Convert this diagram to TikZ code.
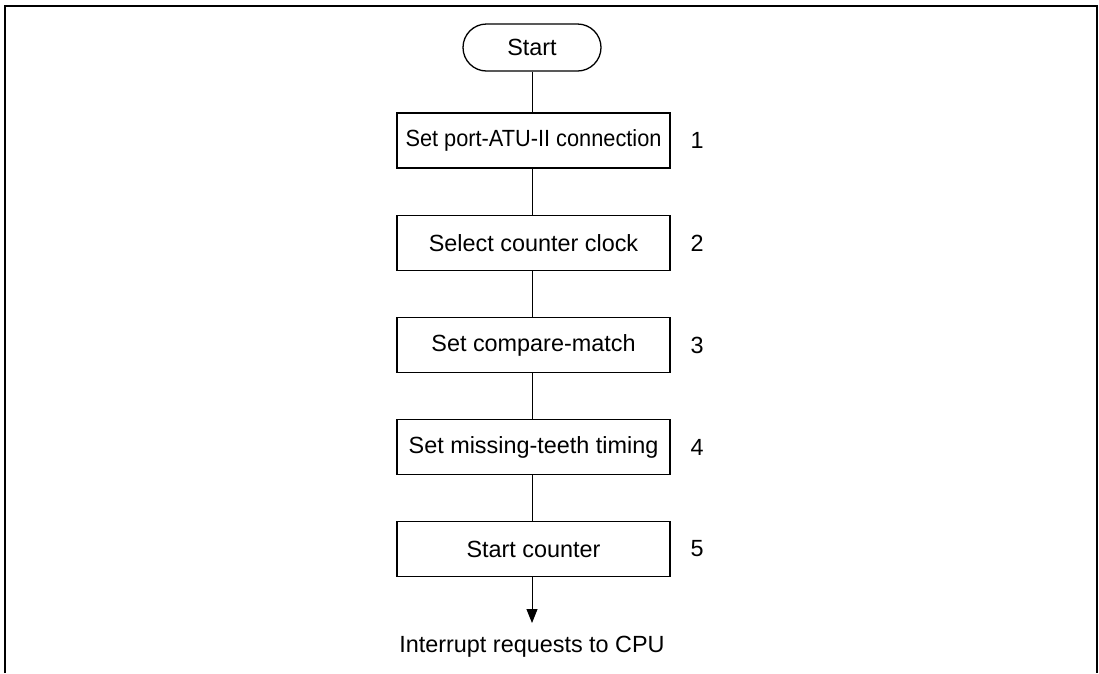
\documentclass[tikz,border=0pt]{standalone}
\usepackage{fontspec}
\usepackage{graphicx}
\setmainfont{Liberation Sans}
\usetikzlibrary{shapes.misc,arrows.meta}
\begin{document}
\begin{tikzpicture}[x=1pt,y=-1pt,
  every node/.style={font=\fontsize{23.4}{27}\selectfont, inner sep=0pt},
  stepbox/.style={draw, line width=1.3pt, minimum width=273pt, minimum height=55pt},
  pill/.style={draw, line width=1.3pt, rounded rectangle, minimum width=138pt, minimum height=47pt},
  link/.style={line width=1pt},
  num/.style={anchor=center}]
\useasboundingbox (0,0) rectangle (1099,673);
\draw[line width=2pt] (5,673) -- (5,6) -- (1097,6) -- (1097,673);
\node[pill] (start) at (532,47.5) {Start};
\node[stepbox] (s1) at (533.5,140.5) {\scalebox{0.93}[1]{Set port-ATU-II connection}};
\node[stepbox] (s2) at (533.5,243) {Select counter clock};
\node[stepbox] (s3) at (533.5,345) {Set compare-match};
\node[stepbox] (s4) at (533.5,447) {Set missing-teeth timing};
\node[stepbox] (s5) at (533.5,549) {Start counter};
\node[num] (n1) at (697,140.5) {1};
\node[num] (n2) at (697,243) {2};
\node[num] (n3) at (697,345) {3};
\node[num] (n4) at (697,447) {4};
\node[num] (n5) at (697,549) {5};
\node (irq) at (532,647) {Interrupt requests to CPU};
\coordinate (tip) at (532,623);
\draw[link] (start.south -| 532,0) -- (s1.north -| 532,0);
\draw[link] (s1.south -| 532,0) -- (s2.north -| 532,0);
\draw[link] (s2.south -| 532,0) -- (s3.north -| 532,0);
\draw[link] (s3.south -| 532,0) -- (s4.north -| 532,0);
\draw[link] (s4.south -| 532,0) -- (s5.north -| 532,0);
\draw[link,-{Triangle[length=14pt,width=11pt]}] (s5.south -| 532,0) -- (tip);
\end{tikzpicture}
\end{document}
